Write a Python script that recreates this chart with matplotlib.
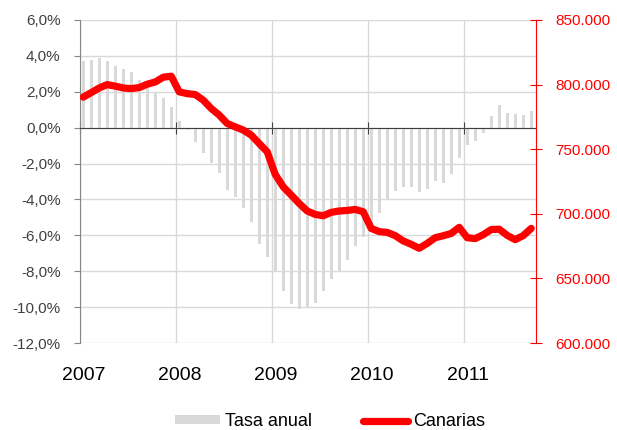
import numpy as np
import matplotlib.pyplot as plt
from matplotlib.transforms import blended_transform_factory

plt.rcParams['font.family'] = ['Liberation Sans', 'DejaVu Sans']

# monthly data, Jan 2007 - Sep 2011
years = ['2007', '2008', '2009', '2010', '2011']
tasa = [3.69, 3.78, 3.89, 3.73, 3.45, 3.26, 3.11, 2.65, 2.24, 2.01, 1.68, 1.16,
        0.35, -0.15, -0.80, -1.42, -1.98, -2.54, -3.45, -3.88, -4.50, -5.24, -6.46, -7.20,
        -7.98, -9.08, -9.84, -10.12, -10.06, -9.75, -9.08, -8.45, -7.97, -7.40, -6.60, -6.10,
        -5.45, -4.73, -3.99, -3.55, -3.32, -3.30, -3.58, -3.44, -2.97, -3.06, -2.60, -1.68,
        -0.95, -0.74, -0.28, 0.65, 1.27, 0.80, 0.77, 0.69, 0.93]
canarias = [790.3, 793.8, 797.4, 800.0, 798.8, 797.4, 796.9, 797.7, 800.3, 802.0, 805.7, 806.5,
            794.4, 793.0, 792.3, 788.0, 781.5, 776.4, 769.9, 767.3, 764.8, 760.9, 754.4, 748.0,
            730.5, 720.9, 714.5, 708.0, 702.2, 699.5, 698.5, 701.1, 702.2, 702.6, 703.4, 701.6,
            688.7, 686.2, 685.6, 683.1, 679.0, 676.4, 673.3, 677.1, 681.5, 683.0, 684.8, 689.5,
            681.5, 680.8, 683.8, 687.8, 688.1, 683.3, 680.0, 683.1, 688.7]

x = np.arange(len(tasa)) + 0.4
year_pos = np.arange(len(years)) * 12

fig = plt.figure(figsize=(6.17, 4.30), dpi=100)
ax = fig.add_axes([0.1297, 0.2023, 0.739, 0.7512])
ax2 = ax.twinx()

ax.bar(x, tasa, width=0.42, color='#D9D9D9', label='Tasa anual', zorder=2)
ax2.plot(x, canarias, color='#FF0000', lw=5.2, solid_capstyle='round',
         solid_joinstyle='round', label='Canarias', zorder=3)

# left axis
ax.set_ylim(-12, 6)
yt = np.arange(-12, 6.1, 2)
ax.set_yticks(yt)
ax.set_yticklabels([f'{v:.1f}%'.replace('.', ',') for v in yt])
ax.tick_params(axis='y', direction='out', length=4, color='#868686',
               labelcolor='#404040', labelsize=11, pad=10)
ax.spines['left'].set_color('#868686')
ax.spines['top'].set_visible(False)
ax.spines['right'].set_visible(False)

# x axis sits on the zero line, labels below the plot
ax.set_xlim(0, 57)
ax.set_xticks(year_pos)
ax.spines['bottom'].set_position(('data', 0))
ax.spines['bottom'].set_color('#404040')
ax.spines['bottom'].set_zorder(4)
ax.tick_params(axis='x', direction='inout', length=8, color='#404040',
               labelbottom=False)
ax.grid(True, color='#D9D9D9', lw=1, zorder=0)
ax.set_axisbelow(True)
tr = blended_transform_factory(ax.transData, ax.transAxes)
for p, lab in zip(year_pos, years):
    ax.text(p + 0.5, -0.101, lab, transform=tr, ha='center', va='center',
            fontsize=14, color='black')

# right axis
ax2.set_ylim(600, 850)
rt = np.arange(600, 851, 50)
ax2.set_yticks(rt)
ax2.set_yticklabels([f'{v}.000' for v in rt])
ax2.tick_params(axis='y', direction='inout', length=8, color='#FF0000',
                labelcolor='#FF0000', labelsize=11, pad=10)
for s in ['left', 'top', 'bottom']:
    ax2.spines[s].set_visible(False)
ax2.spines['right'].set_color('#FF0000')
ax2.spines['right'].set_linewidth(0.8)

h1, l1 = ax.get_legend_handles_labels()
h2, l2 = ax2.get_legend_handles_labels()
fig.legend(h1 + h2, l1 + l2, loc='center', bbox_to_anchor=(0.535, 0.02),
           ncol=2, frameon=False, fontsize=13, handlelength=2.5,
           handleheight=0.35, handletextpad=0.3, columnspacing=2.8)

fig.savefig('out.png', dpi=100)
